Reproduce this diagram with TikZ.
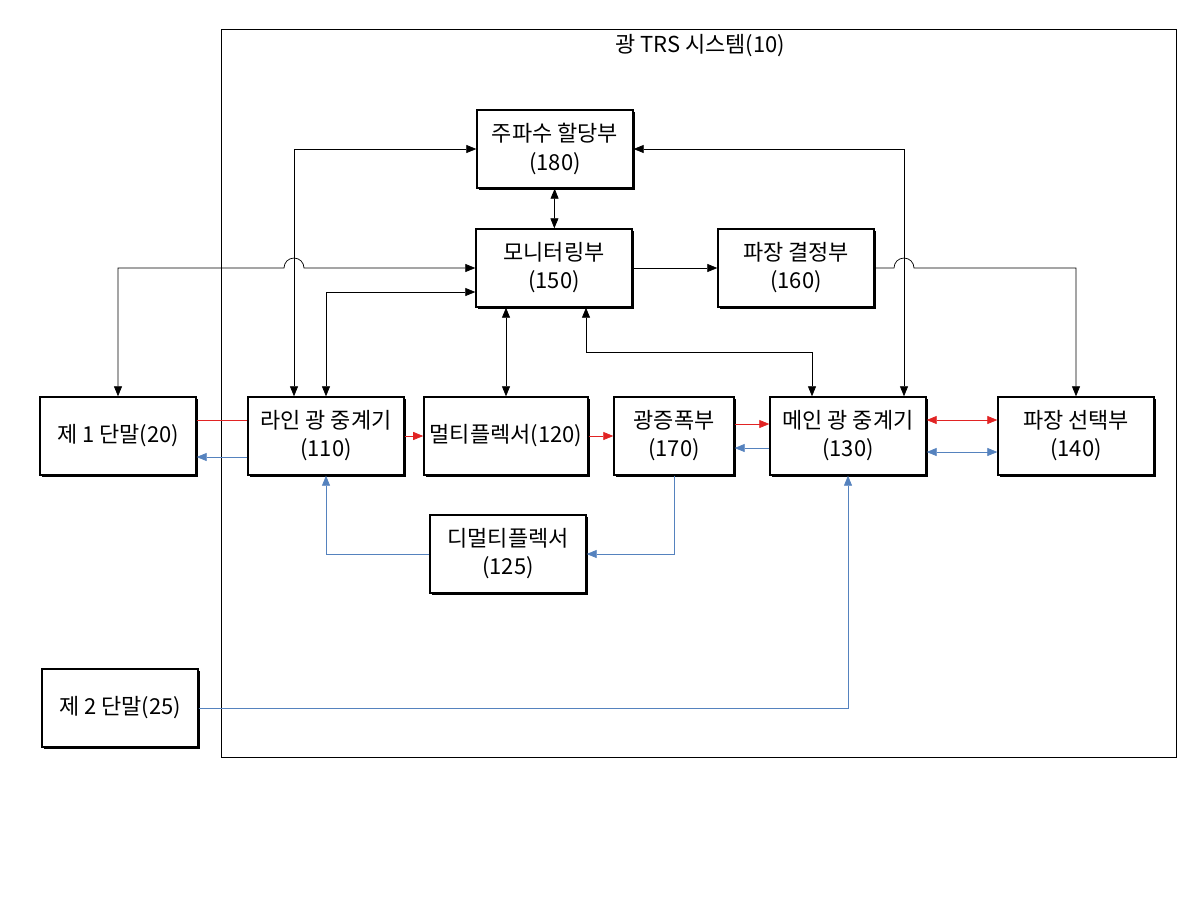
\documentclass[tikz,border=0pt]{standalone}
\usepackage{fontspec}
\setmainfont{Noto Sans CJK KR}
\usetikzlibrary{arrows.meta, calc, positioning, shadows}
\definecolor{sigred}{RGB}{225,35,35}
\definecolor{sigblue}{RGB}{85,130,190}
\tikzset{
  block/.style={rectangle, draw=black, thick, fill=white, minimum width=3.12cm, minimum height=1.56cm, align=center, font=\fontsize{12.5}{16}\selectfont, general shadow={shadow xshift=1.2pt, shadow yshift=-1.2pt, fill=black}},
  arrow/.style={thin, -{Triangle[length=2mm,width=1.6mm]}},
  both/.style={thin, {Triangle[length=2mm,width=1.6mm]}-{Triangle[length=2mm,width=1.6mm]}},
  red line/.style={sigred},
  blue line/.style={sigblue},
}
\begin{document}
\begin{tikzpicture}[x=0.02cm, y=-0.02cm]
  \useasboundingbox (0,0) rectangle (1200,900);
  \draw[thin] (221,29) rectangle (1176,757);
  \node (Title) at (700,46) {\fontsize{12.5}{16}\selectfont 광 TRS 시스템(10)};

  \node (Freq) [block] at (555,149) {주파수 할당부\\(180)};
  \node (Monitor) [block] at (554,268) {모니터링부\\(150)};
  \node (Wave) [block] at (796,268) {파장 결정부\\(160)};
  \node (TermA) [block] at (118,436) {제 1 단말(20)};
  \node (LineRep) [block] at (326,436) {라인 광 중계기\\(110)};
  \node (Mux) [block] at (506,436) {멀티플렉서(120)};
  \node (Amp) [block, minimum width=2.4cm] at (674,436) {광증폭부\\(170)};
  \node (MainRep) [block] at (848,436) {메인 광 중계기\\(130)};
  \node (Select) [block] at (1076,436) {파장 선택부\\(140)};
  \node (Demux) [block] at (508,554) {디멀티플렉서\\(125)};
  \node (TermB) [block] at (120,708) {제 2 단말(25)};

  \coordinate (HopA) at (294,268);
  \coordinate (HopB) at (904,268);

  % control paths
  \draw[both] (Freq) -- (Monitor);
  \draw[both] (LineRep.north -| HopA) |- (Freq.west);
  \draw[both] (TermA.north) |- ($(HopA)+(-10,0)$) arc[start angle=180, end angle=0, radius=0.2cm] -- (Monitor.west |- HopA);
  \draw[both] (LineRep.north) |- ($(Monitor.west)+(0,24)$);
  \draw[both] (Monitor.south -| Mux.north) -- (Mux.north);
  \draw[arrow] (Monitor) -- (Wave);
  \draw[arrow] (Wave.east) -- ($(HopB)+(-10,0)$) arc[start angle=180, end angle=0, radius=0.2cm] -| (Select.north);
  \draw[both] (Freq.east) -| (MainRep.north -| HopB);
  \draw[both] ($(Monitor.south)+(32,0)$) |- ($(MainRep.north)+(-36,-44)$) -- ($(MainRep.north)+(-36,0)$);

  % optical paths
  \draw[red line] ($(TermA.east)+(0,-16)$) -- ($(LineRep.west)+(0,-16)$);
  \draw[blue line, arrow] ($(LineRep.west)+(0,21)$) -- ($(TermA.east)+(0,21)$);
  \draw[red line, arrow] (LineRep) -- (Mux);
  \draw[red line, arrow] (Mux) -- (Amp);
  \draw[red line, arrow] ($(Amp.east)+(0,-12)$) -- ($(MainRep.west)+(0,-12)$);
  \draw[blue line, arrow] ($(MainRep.west)+(0,12)$) -- ($(Amp.east)+(0,12)$);
  \draw[red line, both] ($(MainRep.east)+(0,-16)$) -- ($(Select.west)+(0,-16)$);
  \draw[blue line, both] ($(MainRep.east)+(0,16)$) -- ($(Select.west)+(0,16)$);
  \draw[blue line, arrow] (Amp.south) |- (Demux.east);
  \draw[blue line, arrow] (Demux.west) -| (LineRep.south);
  \draw[blue line, arrow] (TermB.east) -| (MainRep.south);
\end{tikzpicture}
\end{document}
